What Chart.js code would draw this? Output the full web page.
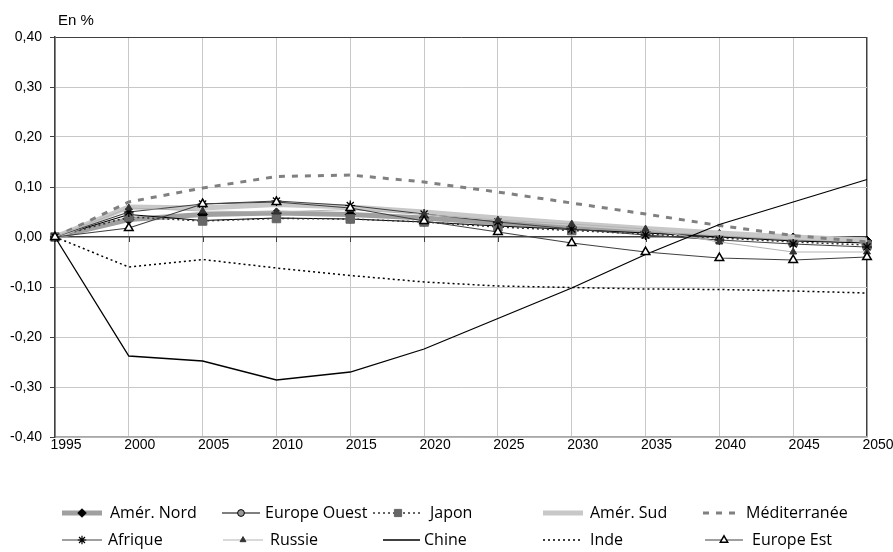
<!DOCTYPE html>
<html><head><meta charset="utf-8">
<script src="https://cdn.jsdelivr.net/npm/chart.js@4/dist/chart.umd.min.js"></script>
<style>html,body{margin:0;padding:0;background:#fff}#wrap{width:893px;height:552px;position:relative}</style>
</head><body><div id="wrap"><canvas id="c" width="893" height="552"></canvas></div>
<script>
const years = ['1995','2000','2005','2010','2015','2020','2025','2030','2035','2040','2045','2050'];
const amerNord     = [0, 0.035, 0.045, 0.048, 0.045, 0.038, 0.028, 0.020, 0.012, 0.005, -0.002, -0.008];
const europeOuest  = [0, 0.045, 0.033, 0.038, 0.036, 0.030, 0.022, 0.015, 0.008, 0.000, -0.008, -0.012];
const japon        = [0, 0.040, 0.032, 0.037, 0.036, 0.030, 0.020, 0.013, 0.006, -0.002, -0.010, -0.016];
const amerSud      = [0, 0.060, 0.058, 0.065, 0.060, 0.050, 0.038, 0.027, 0.017, 0.008, 0.000, -0.006];
const mediterranee = [0, 0.070, 0.098, 0.121, 0.124, 0.110, 0.090, 0.068, 0.046, 0.023, 0.003, -0.010];
const afrique      = [0, 0.050, 0.066, 0.072, 0.063, 0.046, 0.030, 0.016, 0.004, -0.006, -0.014, -0.020];
const russie       = [0, 0.058, 0.052, 0.050, 0.055, 0.045, 0.034, 0.026, 0.016, -0.010, -0.030, -0.030];
const chine        = [0, -0.238, -0.248, -0.286, -0.270, -0.224, -0.163, -0.102, -0.035, 0.025, 0.070, 0.115];
const inde         = [0, -0.060, -0.045, -0.062, -0.077, -0.090, -0.098, -0.101, -0.104, -0.105, -0.108, -0.112];
const europeEst    = [0, 0.018, 0.066, 0.070, 0.058, 0.032, 0.010, -0.012, -0.030, -0.042, -0.046, -0.040];

const seriesNames = ['Amér. Nord','Europe Ouest','Japon','Amér. Sud','Méditerranée','Afrique','Russie','Chine','Inde','Europe Est'];
const seriesValues = [amerNord, europeOuest, japon, amerSud, mediterranee, afrique, russie, chine, inde, europeEst];

const styles = [
 {borderColor:'#a0a0a0', borderWidth:5, pointStyle:'rectRot', pointRadius:5, pointBackgroundColor:'#000', pointBorderColor:'#000', pointBorderWidth:1},
 {borderColor:'#000', borderWidth:1.2, pointStyle:'circle', pointRadius:4, pointBackgroundColor:'#999', pointBorderColor:'#000', pointBorderWidth:1},
 {borderColor:'#333', borderWidth:1.5, borderDash:[2,3], pointStyle:'rect', pointRadius:6, pointBackgroundColor:'#666', pointBorderColor:'#666', pointBorderWidth:1},
 {borderColor:'#c8c8c8', borderWidth:5, pointRadius:0},
 {borderColor:'#808080', borderWidth:3, borderDash:[6,7], pointRadius:0},
 {borderColor:'#404040', borderWidth:1.2, pointStyle:'star', pointRadius:5, pointBackgroundColor:'#000', pointBorderColor:'#000', pointBorderWidth:1.2},
 {borderColor:'#b4b4b4', borderWidth:1.2, pointStyle:'triangle', pointRadius:4, pointBackgroundColor:'#333', pointBorderColor:'#333', pointBorderWidth:1},
 {borderColor:'#000', borderWidth:1.3, pointRadius:0},
 {borderColor:'#000', borderWidth:1.5, borderDash:[2,3], pointRadius:0},
 {borderColor:'#404040', borderWidth:1.2, pointStyle:'triangle', pointRadius:5, pointBackgroundColor:'#fff', pointBorderColor:'#000', pointBorderWidth:1.5},
];

// legend layout: [sampleStart, sampleEnd, textX, y]
const legendPos = [
 [62,102,110,513],[222,260,265,513],[373,423,430,513],[543,583,590,513],[703,738,746,513],
 [62,102,108,540],[223,263,270,540],[383,420,424,540],[543,582,590,540],[705,743,752,540]
];

const datasets = seriesNames.map((n,i)=>Object.assign({
  label:n, data:seriesValues[i], fill:false, tension:0, clip:false,
  order: seriesNames.length-1-i, pointHoverRadius:0
}, styles[i]));

const near=(a,b)=>Math.abs(a-b)<1e-9;

const extras = {
  id:'extras',
  beforeDatasetsDraw(chart){
    const ctx=chart.ctx, xs=chart.scales.x, ys=chart.scales.y;
    const y0=ys.getPixelForValue(0);
    ctx.save();
    ctx.strokeStyle='#404040'; ctx.lineWidth=1;
    for(let i=0;i<years.length;i++){
      const x=Math.round(xs.getPixelForValue(i))+0.5;
      ctx.beginPath(); ctx.moveTo(x,y0); ctx.lineTo(x,y0+5); ctx.stroke();
    }
    ctx.restore();
  },
  afterDraw(chart){
    const ctx=chart.ctx;
    ctx.save();
    ctx.fillStyle='#000';
    ctx.font='15px "Liberation Sans", Arial, sans-serif';
    ctx.textBaseline='middle'; ctx.textAlign='left';
    ctx.fillText('En %',58,21);
    ctx.font='16px "Open Sans", "Noto Sans", sans-serif';
    seriesNames.forEach((n,i)=>{
      const [a,b,tx,y]=legendPos[i]; const s=styles[i];
      ctx.save();
      ctx.strokeStyle=s.borderColor; ctx.lineWidth=s.borderWidth;
      ctx.setLineDash(s.borderDash||[]);
      ctx.beginPath(); ctx.moveTo(a,y); ctx.lineTo(b,y); ctx.stroke();
      ctx.setLineDash([]);
      if(s.pointRadius>0){
        ctx.fillStyle=s.pointBackgroundColor; ctx.strokeStyle=s.pointBorderColor; ctx.lineWidth=s.pointBorderWidth;
        Chart.helpers.drawPoint(ctx,{pointStyle:s.pointStyle,radius:s.pointRadius*0.85,rotation:0,borderWidth:s.pointBorderWidth},(a+b)/2,y);
      }
      ctx.restore();
      ctx.fillStyle='#000';
      ctx.fillText(n,tx,y);
    });
    ctx.restore();
  }
};

new Chart(document.getElementById('c'),{
  type:'line',
  data:{labels:years, datasets},
  plugins:[extras],
  options:{
    responsive:false, animation:false,
    layout:{padding:{top:37,right:26,left:0,bottom:0}},
    plugins:{legend:{display:false},tooltip:{enabled:false}},
    scales:{
      x:{
        offset:false,
        afterFit:s=>{s.height=115;},
        grid:{color:c=>c.index===years.length-1?'#404040':'#c8c8c8', lineWidth:c=>c.index===years.length-1?1.5:1, drawTicks:false},
        border:{color:'#a8a8a8', width:1.5},
        ticks:{autoSkip:false, maxRotation:0, padding:0, labelOffset:11, color:'#000', font:{family:'"Liberation Sans", Arial, sans-serif', size:14}}
      },
      y:{
        min:-0.4, max:0.4,
        afterFit:s=>{s.width=55;},
        grid:{
          color:c=>c.tick&&(near(c.tick.value,0)||c.tick.value>0.39)?'#404040':'#c8c8c8',
          lineWidth:c=>c.tick&&near(c.tick.value,0)?1.5:1,
          tickColor:'#404040', tickLength:5
        },
        border:{color:'#404040', width:1.5},
        ticks:{stepSize:0.1, padding:8, color:'#000', font:{family:'"Liberation Sans", Arial, sans-serif', size:14},
          callback:v=>(near(v,0)?0:v).toFixed(2).replace('.',',')}
      }
    }
  }
});
</script></body></html>
